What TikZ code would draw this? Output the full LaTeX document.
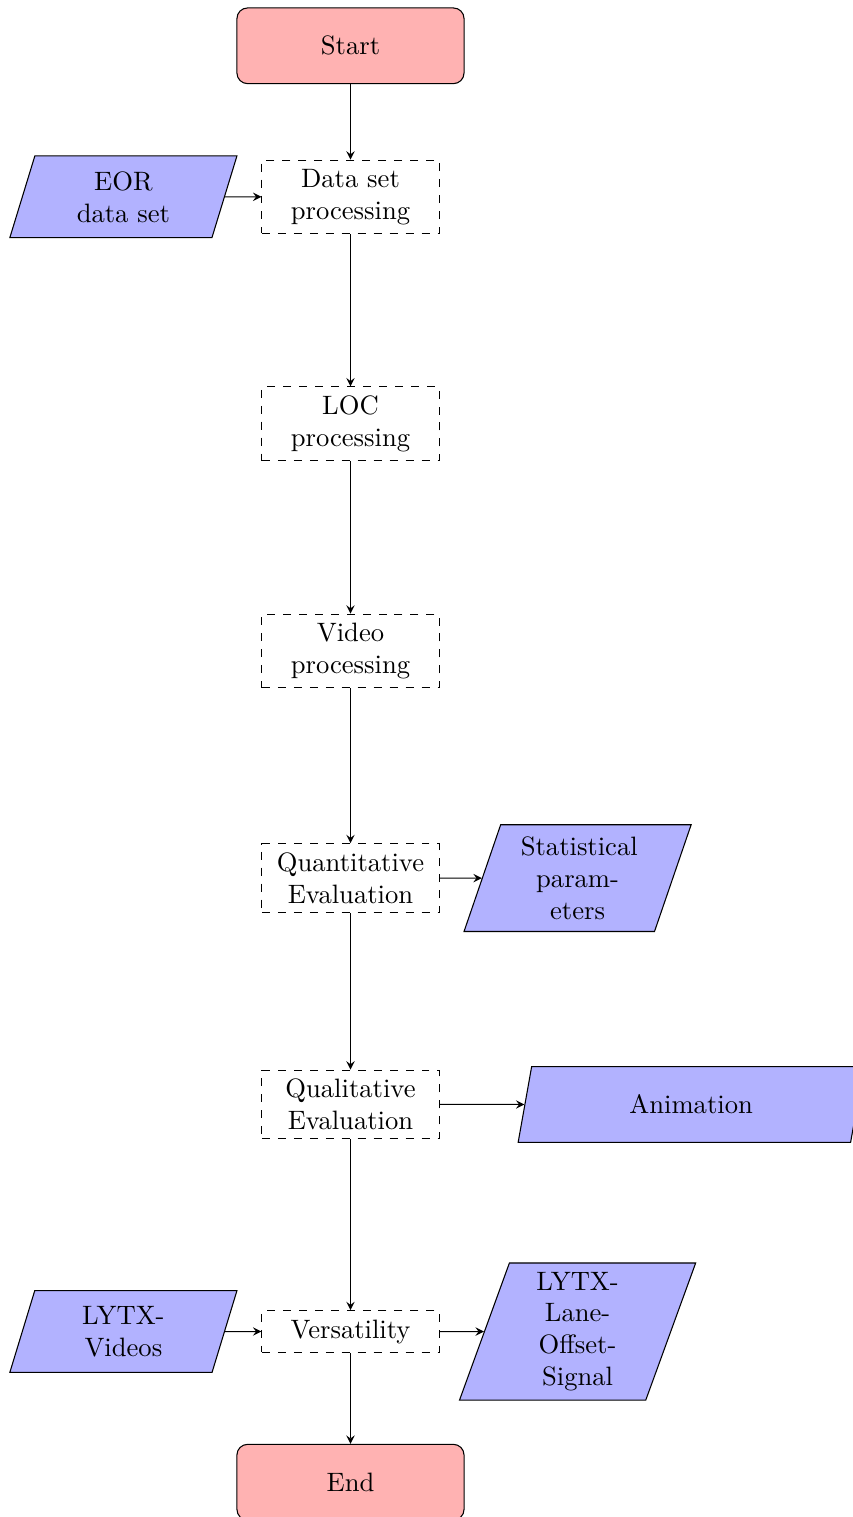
\documentclass[tikz,border=0pt]{standalone}
\usetikzlibrary{shapes.geometric,arrows}
\begin{document}
\begin{tikzpicture}[
  terminal/.style={rectangle, rounded corners, draw, fill=red!30,
    minimum width=3cm, minimum height=1cm, align=center},
  procbox/.style={rectangle, draw, dashed, text width=2.05cm,
    minimum width=2.34cm, align=center},
  iobox/.style={trapezium, trapezium left angle=70, trapezium right angle=110,
    trapezium stretches body, draw, fill=blue!30, text width=1.5cm,
    minimum width=3cm, minimum height=1cm, align=center},
  flow/.style={draw, -stealth}
]
\useasboundingbox (0,0) rectangle (11.268,-20.04);

% main column
\node[terminal] (start) at (4.63,-0.605) {Start};
\node[procbox] (data) at (4.63,-2.6) {Data set processing};
\node[procbox] (loc) at (4.63,-5.6) {LOC processing};
\node[procbox] (video) at (4.63,-8.6) {Video processing};
\node[procbox] (quant) at (4.63,-11.6) {Quantitative Evaluation};
\node[procbox] (qual) at (4.63,-14.59) {Qualitative Evaluation};
\node[procbox] (vers) at (4.63,-17.59) {Versatility};
\node[terminal] (end) at (4.63,-19.58) {End};

% inputs and outputs
\node[iobox, minimum height=1.08cm] (eor) at (1.63,-2.6) {EOR\\data set};
\node[iobox, minimum height=1.41cm] (stat) at (7.63,-11.6) {Statistical\\param-\\eters};
\node[iobox, text width=, minimum width=4.57cm] (anim) at (9.13,-14.59) {Animation};
\node[iobox, minimum height=1.08cm] (lytxv) at (1.63,-17.59) {LYTX-\\Videos};
\node[iobox, minimum width=3.12cm] (lytxs) at (7.63,-17.59) {LYTX-\\Lane-\\Offset-\\Signal};

% connectors
\draw[flow] (start) -- (data);
\draw[flow] (eor) -- (data);
\draw[flow] (data) -- (loc);
\draw[flow] (loc) -- (video);
\draw[flow] (video) -- (quant);
\draw[flow] (quant) -- (stat);
\draw[flow] (quant) -- (qual);
\draw[flow] (qual) -- (anim);
\draw[flow] (qual) -- (vers);
\draw[flow] (lytxv) -- (vers);
\draw[flow] (vers) -- (lytxs);
\draw[flow] (vers) -- (end);
\end{tikzpicture}
\end{document}
